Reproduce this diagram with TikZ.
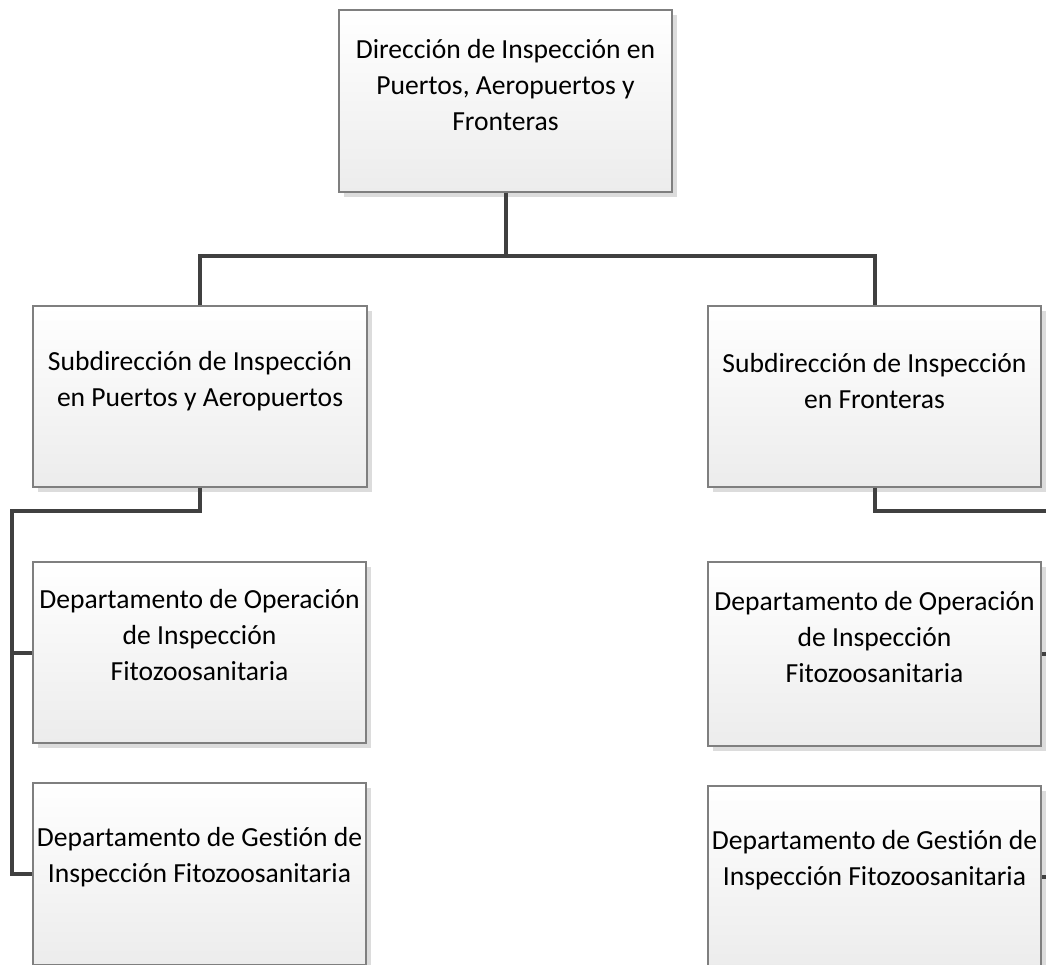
\documentclass[tikz,border=0pt]{standalone}
\usepackage{fontspec}
\setmainfont{Carlito}[Ligatures=NoCommon]
\usetikzlibrary{shadows}
\definecolor{connc}{HTML}{404040}
\definecolor{edgec}{HTML}{7F7F7F}
\definecolor{shadec}{HTML}{DCDCDC}
\definecolor{fillbot}{HTML}{ECECEC}
\newcommand{\gestion}{Gest\kern0pt ión}
\begin{document}
\begin{tikzpicture}[x=1pt,y=-1pt,
  orgbox/.style={draw=edgec, line width=1.1pt, top color=white, bottom color=fillbot,
    minimum width=333pt, minimum height=182pt, inner sep=0pt,
    general shadow={fill=shadec, shadow xshift=5pt, shadow yshift=-5pt}},
  orgtxt/.style={align=center, font=\fontsize{27.6}{36}\selectfont, inner sep=0pt},
  link/.style={draw=connc, line width=4pt}]
\useasboundingbox (0,0) rectangle (1046,964);
\clip (0,0) rectangle (1046,964);
\fill[white] (0,0) rectangle (1046,964);

% boxes
\node[orgbox] (top) at (505.5,101) {};
\node[orgbox, minimum width=334pt, minimum height=181pt] (subL) at (200,396.5) {};
\node[orgbox, minimum height=181pt] (subR) at (874.5,396.5) {};
\node[orgbox, minimum height=181pt] (d1L) at (199.5,652.5) {};
\node[orgbox] (d2L) at (199.5,874) {};
\node[orgbox, minimum height=184pt] (d1R) at (874.5,654) {};
\node[orgbox] (d2R) at (874.5,877) {};

% texts
\node[orgtxt] (topT) at ([yshift=16pt]top.center) {Dirección de Inspección en\\Puertos, Aeropuertos y\\Fronteras};
\node[orgtxt] (subLT) at ([yshift=15pt]subL.center) {Subdirección de Inspección\\en Puertos y Aeropuertos};
\node[orgtxt] (subRT) at ([yshift=15pt]subR.center) {Subdirección de Inspección\\en Fronteras};
\node[orgtxt] (d1LT) at ([yshift=17pt]d1L.center) {Departamento de Operación\\de Inspección\\Fitozoosanitaria};
\node[orgtxt] (d2LT) at ([yshift=17pt]d2L.center) {Departamento de \gestion{} de\\Inspección Fitozoosanitaria};
\node[orgtxt] (d1RT) at ([yshift=17pt]d1R.center) {Departamento de Operación\\de Inspección\\Fitozoosanitaria};
\node[orgtxt] (d2RT) at ([yshift=17pt]d2R.center) {Departamento de \gestion{} de\\Inspección Fitozoosanitaria};

% connectors
\coordinate (busL) at (200,256);
\coordinate (busR) at (874.5,256);
\coordinate (elbL) at (12,511);
\coordinate (elbR) at (1062,511);
\draw[link] (top.south) -- (top.south |- busL);
\draw[link] (subL.north) -- (busL) -- (busR) -- (subR.north);
\draw[link] (subL.south) -- (subL.south |- elbL) -- (elbL) -- (elbL |- d2L.west) -- (d2L.west);
\draw[link] (elbL |- d1L.west) -- (d1L.west);
\draw[link] (subR.south) -- (subR.south |- elbR) -- (elbR) -- (elbR |- d2R.east) -- (d2R.east);
\draw[link] (elbR |- d1R.east) -- (d1R.east);
\end{tikzpicture}
\end{document}
